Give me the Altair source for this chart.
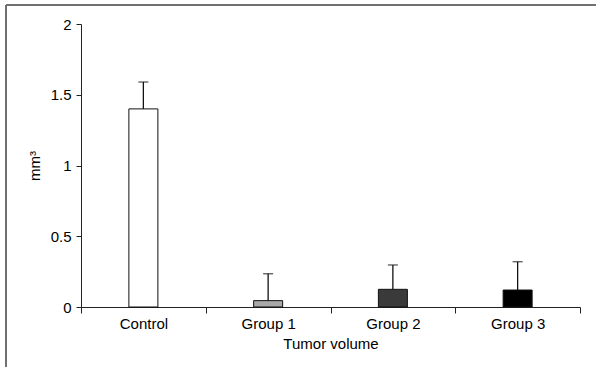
import altair as alt
import pandas as pd

categories = ["Control", "Group 1", "Group 2", "Group 3"]
means = [1.40, 0.045, 0.125, 0.12]
upper = [1.59, 0.235, 0.297, 0.32]
fills = ["#ffffff", "#a8a8a8", "#3a3a3a", "#000000"]

df = pd.DataFrame({"group": categories, "mean": means, "upper": upper})

FONT = "Liberation Sans"

xenc = alt.X(
    "group:N",
    sort=categories,
    scale=alt.Scale(paddingInner=0, paddingOuter=0),
    axis=alt.Axis(
        title="Tumor volume", labelAngle=0, tickBand="extent",
        labelFont=FONT, labelFontSize=15, labelColor="#000",
        titleFont=FONT, titleFontSize=15, titleFontWeight="normal", titleColor="#000",
        domainColor="#222", tickColor="#222", tickSize=6,
        labelPadding=3, titlePadding=5,
    ),
)

yscale = alt.Scale(domain=[0, 2], nice=False, zero=True)
yaxis = alt.Axis(
    title="mm³", values=[0, 0.5, 1, 1.5, 2], format="~g", grid=False,
    labelFont=FONT, labelFontSize=15, labelColor="#000",
    titleFont=FONT, titleFontSize=15, titleFontWeight="normal", titleColor="#000",
    domainColor="#222", tickColor="#222", tickSize=5, labelPadding=5, titlePadding=8,
)

base = alt.Chart(df)

bars = base.mark_bar(size=29, stroke="#111", strokeWidth=1).encode(
    x=xenc,
    y=alt.Y("mean:Q", scale=yscale, axis=yaxis),
    fill=alt.Fill("group:N", scale=alt.Scale(domain=categories, range=fills), legend=None),
)

err = base.mark_rule(color="#111", strokeWidth=1.3).encode(
    x=alt.X("group:N", sort=categories),
    y="mean:Q",
    y2="upper:Q",
)

caps = base.mark_tick(color="#111", size=10, thickness=1.3).encode(
    x=alt.X("group:N", sort=categories),
    y="upper:Q",
)

frame_df = pd.DataFrame({"k": [0]})
left_line = alt.Chart(frame_df).mark_rule(color="#707070", strokeWidth=2).encode(
    x=alt.value(-75), y=alt.value(-19), y2=alt.value(343)
)
top_line = alt.Chart(frame_df).mark_rule(color="#707070", strokeWidth=2).encode(
    x=alt.value(-75), x2=alt.value(515), y=alt.value(-19)
)

chart = alt.layer(bars, err, caps, left_line, top_line).properties(
    width=499,
    height=283,
    padding={"left": 81, "top": 24, "right": 16, "bottom": 60},
    autosize=alt.AutoSizeParams(type="none"),
    background="white",
).configure_view(stroke=None)

chart.save("out.html", embed_options={"renderer": "svg", "actions": False})
